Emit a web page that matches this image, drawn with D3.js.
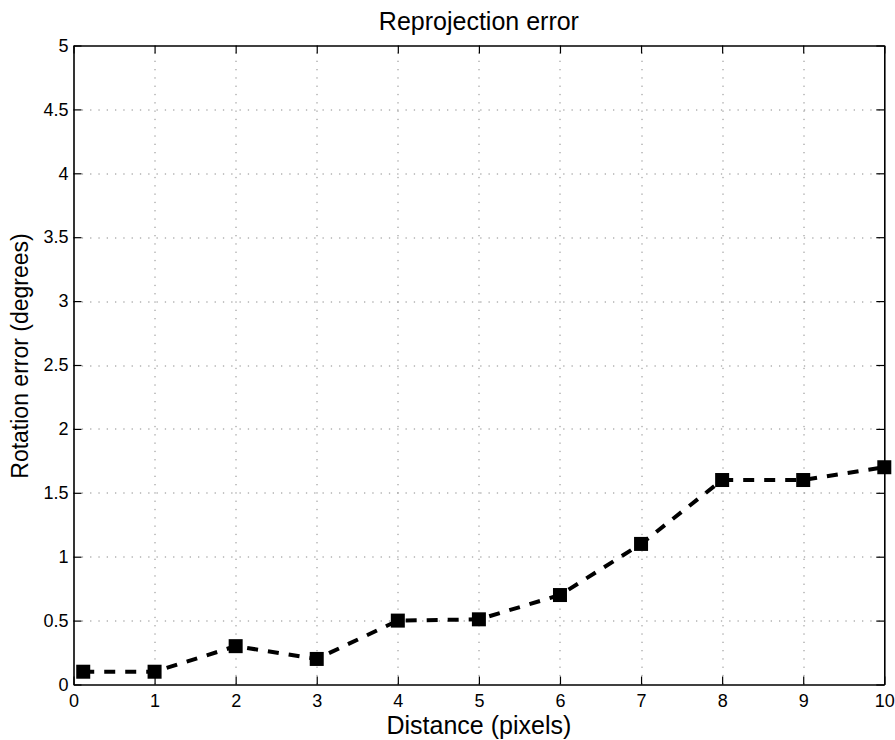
<!DOCTYPE html>
<html>
<head>
<meta charset="utf-8">
<script src="https://cdn.jsdelivr.net/npm/d3@7"></script>
<style>
  html, body { margin: 0; padding: 0; background: #fff; }
  svg { display: block; font-family: "Liberation Sans", Arial, Helvetica, sans-serif; }
</style>
</head>
<body>
<svg id="chart" width="895" height="740"></svg>
<script>
// Measured rotation error against pixel distance
const distance = [0.12, 1, 2, 3, 4, 5, 6, 7, 8, 9, 10];
const rotationError = [0.1, 0.1, 0.3, 0.2, 0.5, 0.51, 0.7, 1.1, 1.6, 1.6, 1.7];

const xTicks = [0, 1, 2, 3, 4, 5, 6, 7, 8, 9, 10];
const yTicks = [0, 0.5, 1, 1.5, 2, 2.5, 3, 3.5, 4, 4.5, 5];

const titleText = "Reprojection error";
const xLabelText = "Distance (pixels)";
const yLabelText = "Rotation error (degrees)";

const W = 895, H = 740;
const margin = { left: 73.5, right: 10.7, top: 45.5, bottom: 55.5 };
const iw = W - margin.left - margin.right;
const ih = H - margin.top - margin.bottom;

const svg = d3.select("#chart");
const g = svg.append("g").attr("transform", `translate(${margin.left},${margin.top})`);

const x = d3.scaleLinear().domain([0, 10]).range([0, iw]);
const y = d3.scaleLinear().domain([0, 5]).range([ih, 0]);

// Dotted grid
const grid = g.append("g").attr("stroke", "#8a8a8a").attr("stroke-width", 1)
  .attr("stroke-dasharray", "1.3,7");
grid.selectAll("line.vx").data(xTicks.slice(1, -1)).join("line")
  .attr("x1", d => Math.round(x(d)) + 0.5).attr("x2", d => Math.round(x(d)) + 0.5)
  .attr("y1", ih).attr("y2", 0);
grid.selectAll("line.hy").data(yTicks.slice(1, -1)).join("line")
  .attr("x1", 0).attr("x2", iw)
  .attr("y1", d => Math.round(y(d)) + 0.5).attr("y2", d => Math.round(y(d)) + 0.5);

// Axes with inward ticks on all four sides
const tickLen = 8;
const styleAxis = sel => {
  sel.attr("font-size", 18).attr("font-family", "Liberation Sans, Arial, sans-serif");
  sel.select(".domain").attr("stroke", "#000").attr("stroke-width", 1.6);
  sel.selectAll(".tick line").attr("stroke", "#000").attr("stroke-width", 1.2);
  sel.selectAll(".tick text").attr("fill", "#000").attr("font-size", 18);
};

g.append("g").attr("transform", `translate(0,${ih})`)
  .call(d3.axisBottom(x).tickValues(xTicks).tickFormat(d3.format("d"))
    .tickSizeInner(-tickLen).tickSizeOuter(0).tickPadding(10))
  .call(styleAxis);

g.append("g")
  .call(d3.axisTop(x).tickValues(xTicks).tickFormat("")
    .tickSizeInner(-tickLen).tickSizeOuter(0))
  .call(styleAxis);

g.append("g")
  .call(d3.axisLeft(y).tickValues(yTicks).tickFormat(d3.format("~g"))
    .tickSizeInner(-tickLen).tickSizeOuter(0).tickPadding(5))
  .call(styleAxis);

g.append("g").attr("transform", `translate(${iw},0)`)
  .call(d3.axisRight(y).tickValues(yTicks).tickFormat("")
    .tickSizeInner(-tickLen).tickSizeOuter(0))
  .call(styleAxis);

// Dashed series line with square markers
const pts = distance.map((d, i) => [d, rotationError[i]]);
const line = d3.line().x(d => x(d[0])).y(d => y(d[1]));
g.append("path").datum(pts)
  .attr("d", line)
  .attr("fill", "none").attr("stroke", "#000").attr("stroke-width", 4)
  .attr("stroke-dasharray", "11,10");

const ms = 14;
g.selectAll("rect.marker").data(pts).join("rect")
  .attr("class", "marker")
  .attr("x", d => x(d[0]) - ms / 2).attr("y", d => y(d[1]) - ms / 2)
  .attr("width", ms).attr("height", ms).attr("fill", "#000");

// Title and axis labels
svg.append("text").attr("x", margin.left + iw / 2).attr("y", 29.5)
  .attr("text-anchor", "middle").attr("font-size", 25).attr("fill", "#000")
  .text(titleText);

svg.append("text").attr("x", margin.left + iw / 2).attr("y", 734)
  .attr("text-anchor", "middle").attr("font-size", 25).attr("fill", "#000")
  .text(xLabelText);

svg.append("text")
  .attr("transform", `translate(27.5,356) rotate(-90)`)
  .attr("text-anchor", "middle").attr("font-size", 23).attr("fill", "#000")
  .text(yLabelText);
</script>
</body>
</html>
